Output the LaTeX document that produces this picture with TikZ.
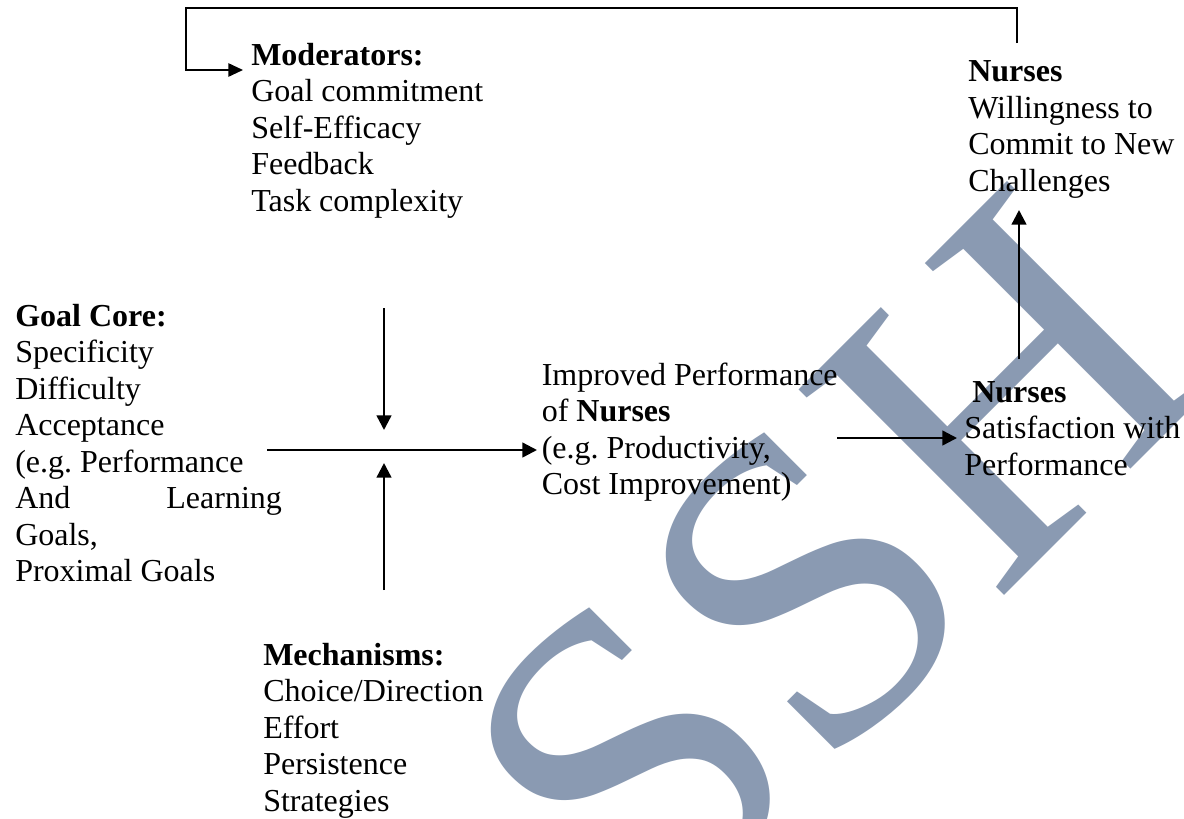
\documentclass[tikz,border=0pt]{standalone}
\usepackage{fontspec}
\setmainfont{Liberation Serif}
\usetikzlibrary{arrows.meta}
\definecolor{wmblue}{RGB}{138,154,178}
\newcommand{\txtblock}[1]{\begin{tabular}[t]{@{}l@{}}#1\end{tabular}}
\frenchspacing
\begin{document}
\begin{tikzpicture}[x=0.75pt,y=-0.75pt,
  txt/.style={inner sep=0pt, anchor=base west,
    font=\fontsize{24}{27.4}\selectfont},
  arr/.style={line width=1.8pt, -{Triangle[length=11pt,width=11pt]}},
  loopline/.style={line width=1.3pt, line join=miter,
    -{Triangle[length=11pt,width=10pt]}},
  wm/.style={inner sep=0pt, text=wmblue,
    font=\fontsize{333}{333}\selectfont}]
\useasboundingbox (0,0) rectangle (1184,818);
\fill[white] (0,0) rectangle (1184,818);

% watermark letters behind the diagram
\node[wm, anchor=base east, rotate=45] (wmark) at (1223,377) {SSH};

% text blocks
\node[txt] (mod) at (251,65) {\txtblock{\textbf{Moderators:}\\Goal commitment\\Self-Efficacy\\Feedback\\Task complexity}};
\node[txt] (will) at (968,81.5) {\txtblock{\textbf{Nurses}\\Willingness to\\Commit to New\\Challenges}};
\node[txt] (core) at (15,326) {\txtblock{\textbf{Goal Core:}\\Specificity\\Difficulty\\Acceptance\\(e.g. Performance\\\hbox to 200pt{And\hfill Learning}\\Goals,\\Proximal Goals}};
\node[txt] (perf) at (541.5,385) {\txtblock{Improved Performance\\of \textbf{Nurses}\\(e.g. Productivity,\\Cost Improvement)}};
\node[txt] (sat) at (964,402) {\txtblock{\hspace*{6pt}\textbf{Nurses}\\Satisfaction with\\Performance}};
\node[txt] (mech) at (263,665) {\txtblock{\textbf{Mechanisms:}\\Choice/Direction\\Effort\\Persistence\\Strategies}};

% connector end points
\coordinate (modIn)   at (384,308);
\coordinate (modOut)  at (384,430);
\coordinate (mechIn)  at (384,590);
\coordinate (mechOut) at (384,463);
\coordinate (coreOut) at (267,450);
\coordinate (perfIn)  at (537,450);
\coordinate (perfOut) at (837,438);
\coordinate (satIn)   at (957,438);
\coordinate (satOut)  at (1019,359);
\coordinate (willIn)  at (1019,210);
\coordinate (fbStart) at (1017,43);
\coordinate (fbTop)   at (186,8);
\coordinate (fbEnd)   at (243,70);

% connectors
\draw[arr] (modIn) -- (modOut);
\draw[arr] (mechIn) -- (mechOut);
\draw[arr] (coreOut) -- (perfIn);
\draw[arr] (perfOut) -- (satIn);
\draw[arr] (satOut) -- (willIn);
\draw[loopline] (fbStart) |- (fbTop) |- (fbEnd);
\end{tikzpicture}
\end{document}
